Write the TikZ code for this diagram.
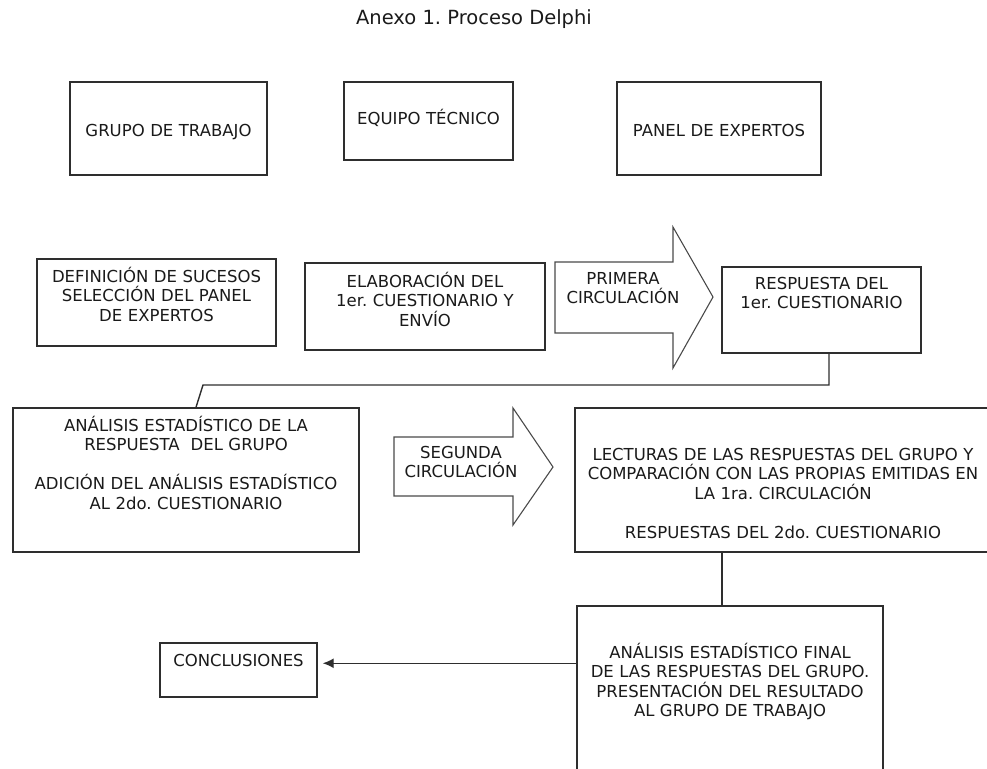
\documentclass[tikz,border=0pt]{standalone}
\usepackage{fontspec}
\setmainfont{DejaVu Sans}
\usepackage{tikz}
\usetikzlibrary{arrows.meta,calc,positioning}
\definecolor{DelphiLine}{HTML}{2E2E2E}
\definecolor{DelphiText}{HTML}{1A1A1A}
\definecolor{DelphiArrow}{HTML}{4A4A4A}
\tikzset{
  >=Latex,
  stagebox/.style={draw=DelphiLine,line width=1.4pt,fill=white,align=center,
    inner sep=0pt,text=DelphiText,font=\fontsize{16.5}{19.5}\selectfont},
  arrowlabel/.style={align=center,inner sep=0pt,text width=130pt,text=DelphiText,
    font=\fontsize{16.5}{19.5}\selectfont},
  blockarrow/.style={draw=DelphiArrow,line width=1.1pt,line join=miter},
  link/.style={draw=DelphiLine,line width=1.4pt},
  flow/.style={link,-{Latex[length=11pt,width=10pt]},shorten >=5pt},
  heading/.style={inner sep=0pt,text=DelphiText,font=\fontsize{19.5}{22}\selectfont}
}

\begin{document}
\frenchspacing
\begin{tikzpicture}[x=1pt,y=-1pt]
  \useasboundingbox (0,0) rectangle (987,768);
  \clip (0,0) rectangle (987,768);

  \node[heading,anchor=base] (titulo) at (474,25) {Anexo 1. Proceso Delphi};

  \node[stagebox,anchor=base,text width=197pt,text height=54pt,text depth=39pt] (grupo) at (168.5,136) {GRUPO DE TRABAJO};
  \node[stagebox,anchor=base,text width=169pt,text height=42pt,text depth=36pt] (equipo) at (428.5,124) {EQUIPO TÉCNICO};
  \node[stagebox,anchor=base,text width=204pt,text height=54pt,text depth=39pt] (panel) at (719,136) {PANEL DE EXPERTOS};

  \node[stagebox,anchor=base,text width=239pt,text height=23pt,text depth=64pt] (definicion) at (156.5,282) {DEFINICIÓN DE SUCESOS\\SELECCIÓN DEL PANEL\\DE EXPERTOS};
  \node[stagebox,anchor=base,text width=240pt,text height=24pt,text depth=63pt] (elaboracion) at (425,287) {ELABORACIÓN DEL\\1er. CUESTIONARIO Y\\ENVÍO};
  \draw[blockarrow] (555,262) -- (673,262) -- (673,227) -- (713,297) -- (673,368) -- (673,333) -- (555,333) -- cycle;
  \node[arrowlabel,anchor=base] (primera) at (623,284) {PRIMERA\\CIRCULACIÓN};
  \node[stagebox,anchor=base,text width=199pt,text height=22pt,text depth=64pt] (resp1) at (821.5,289) {RESPUESTA DEL\\1er. CUESTIONARIO};

  \node[stagebox,anchor=base,text width=346pt,text height=23pt,text depth=121pt] (analisis) at (186,431) {ANÁLISIS ESTADÍSTICO DE LA\\RESPUESTA~ DEL GRUPO\\[\baselineskip]ADICIÓN DEL ANÁLISIS ESTADÍSTICO\\AL 2do. CUESTIONARIO};
  \draw[blockarrow] (394,437) -- (513,437) -- (513,408) -- (553,467) -- (513,525) -- (513,496) -- (394,496) -- cycle;
  \node[arrowlabel,anchor=base] (segunda) at (461,458) {SEGUNDA\\CIRCULACIÓN};
  \node[stagebox,anchor=base,text width=416pt,text height=52pt,text depth=92pt] (lecturas) at (783,460) {LECTURAS DE LAS RESPUESTAS DEL GRUPO Y\\COMPARACIÓN CON LAS PROPIAS EMITIDAS EN\\LA 1ra. CIRCULACIÓN\\[\baselineskip]RESPUESTAS DEL 2do. CUESTIONARIO};

  \node[stagebox,anchor=base,text width=306pt,text height=52pt,text depth=132pt] (final) at (730,658) {ANÁLISIS ESTADÍSTICO FINAL\\DE LAS RESPUESTAS DEL GRUPO.\\PRESENTACIÓN DEL RESULTADO\\AL GRUPO DE TRABAJO};
  \node[stagebox,anchor=base,text width=157pt,text height=23pt,text depth=31pt] (conclusiones) at (238.5,666) {CONCLUSIONES};

  \coordinate (bend) at (203,385);
  \draw[link] ([xshift=7.5pt]resp1.south) |- (bend) -- ([xshift=10pt]analisis.north);
  \draw[link] ([xshift=-8pt]final.north) -- ([xshift=-8pt]final.north |- lecturas.south);
  \draw[flow] (final.west |- conclusiones.mid) -- (conclusiones.mid east);
\end{tikzpicture}
\end{document}
